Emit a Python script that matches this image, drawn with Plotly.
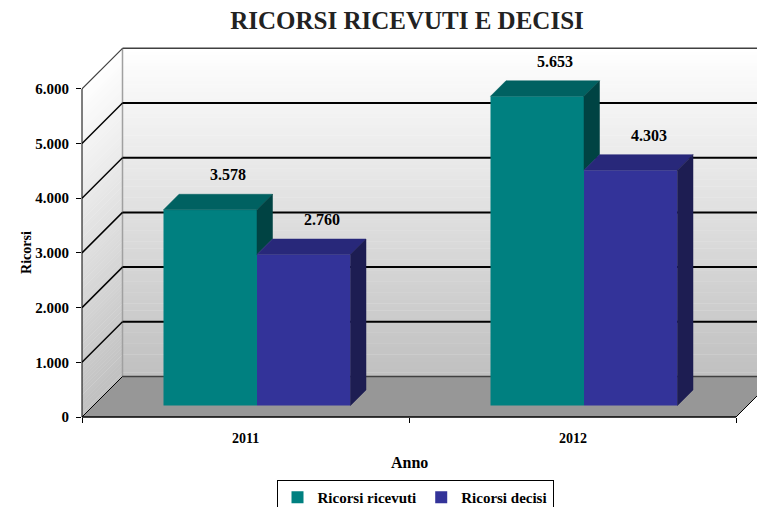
import plotly.graph_objects as go

# ---------------- data ----------------
categories = ["2011", "2012"]
ricorsi_ricevuti = [3578, 5653]
ricorsi_decisi = [2760, 4303]
series_names = ["Ricorsi ricevuti", "Ricorsi decisi"]
y_ticks = [0, 1000, 2000, 3000, 4000, 5000, 6000]
title_text = "RICORSI RICEVUTI E DECISI"
x_title = "Anno"
y_title = "Ricorsi"

# ---------------- style / geometry ----------------
FONT = "Liberation Serif, DejaVu Serif, serif"
PAGE_OFF = 8                     # default body margin of the html page
W, H = 765 - PAGE_OFF, 507 - PAGE_OFF
ML, MR, MT, MB = 82 - PAGE_OFF, 0, 40 - PAGE_OFF, 90
PX_PER_CAT = 327.0
PX_PER_VAL = 54.7 / 1000.0
DEPTH = 40.5
BAR_OFF = 11.5
BAR_DEPTH = 15.5
BAR_W = 93.5

front_col = ["#008080", "#333399"]
top_col = ["#006161", "#28287a"]
side_col = ["#004343", "#1d1d52"]

plot_w = W - ML - MR
plot_h = H - MT - MB
x_range = [-0.5, -0.5 + plot_w / PX_PER_CAT]
y_range = [0, plot_h / PX_PER_VAL]
plot_bottom_screen = 417


def dx(px):
    return px / PX_PER_CAT


def dv(px):
    return px / PX_PER_VAL


def fmt(v):
    return f"{v:,}".replace(",", ".")


series = [ricorsi_ricevuti, ricorsi_decisi]
n_cat = len(categories)
n_ser = len(series)
vmax = y_ticks[-1]
xL = -0.5
xR = n_cat - 0.5
DX, DV = dx(DEPTH), dv(DEPTH)

shapes = []

# back wall gradient
N = 90
def gray(t):
    c = int(round(192 + (255 - 192) * t))
    return f"rgb({c},{c},{c})"

for k in range(N):
    v0 = vmax * k / N
    v1 = vmax * (k + 1) / N
    col = gray((k + 0.5) / N)
    shapes.append(dict(type="rect", xref="x", yref="y", layer="below",
                       x0=xL + DX, x1=x_range[1] + 1, y0=v0 + DV, y1=v1 + DV + 8,
                       fillcolor=col, line=dict(width=0)))
# side wall gradient
for k in range(N):
    v0 = vmax * k / N
    v1 = vmax * (k + 1) / N + 8
    col = gray((k + 0.5) / N)
    path = (f"M {xL},{v0} L {xL + DX},{v0 + DV} L {xL + DX},{v1 + DV} "
            f"L {xL},{v1} Z")
    shapes.append(dict(type="path", xref="x", yref="y", layer="below",
                       path=path, fillcolor=col, line=dict(width=0)))
# floor
shapes.append(dict(type="path", xref="x", yref="y", layer="below",
                   path=f"M {xL},0 L {xR},0 L {xR + DX},{DV} L {xL + DX},{DV} Z",
                   fillcolor="#979797", line=dict(width=0)))
# back-left vertical edge
shapes.append(dict(type="line", xref="x", yref="y", layer="below",
                   x0=xL + DX, x1=xL + DX, y0=DV, y1=vmax + DV,
                   line=dict(color="#a0a0a0", width=1.5)))
# gridlines
for v in y_ticks[1:-1]:
    shapes.append(dict(type="line", xref="x", yref="y", layer="below",
                       x0=xL + DX, x1=x_range[1] + 1, y0=v + DV, y1=v + DV,
                       line=dict(color="black", width=2)))
    shapes.append(dict(type="line", xref="x", yref="y", layer="below",
                       x0=xL, x1=xL + DX, y0=v, y1=v + DV,
                       line=dict(color="black", width=1.5)))
# top edges
shapes.append(dict(type="line", xref="x", yref="y", layer="below",
                   x0=xL + DX, x1=x_range[1] + 1, y0=vmax + DV, y1=vmax + DV,
                   line=dict(color="#404040", width=1.5)))
shapes.append(dict(type="line", xref="x", yref="y", layer="below",
                   x0=xL, x1=xL + DX, y0=vmax, y1=vmax + DV,
                   line=dict(color="#404040", width=1.2)))
# floor edges
shapes.append(dict(type="line", xref="x", yref="y", layer="below",
                   x0=xL + DX, x1=x_range[1] + 1, y0=DV, y1=DV,
                   line=dict(color="#404040", width=1.5)))
shapes.append(dict(type="line", xref="x", yref="y", layer="below",
                   x0=xL, x1=xL + DX, y0=0, y1=DV,
                   line=dict(color="black", width=1)))
shapes.append(dict(type="line", xref="x", yref="y", layer="below",
                   x0=xR, x1=xR + DX, y0=0, y1=DV,
                   line=dict(color="black", width=1)))
# axis lines
shapes.append(dict(type="line", xref="paper", yref="y", layer="above",
                   x0=0, x1=0, y0=0, y1=vmax, line=dict(color="black", width=1)))
shapes.append(dict(type="line", xref="x", yref="paper", layer="above",
                   x0=xL, x1=xR, y0=0, y1=0, line=dict(color="black", width=1.5)))

fig = go.Figure()

base = dv(BAR_OFF)
bw = dx(BAR_W)
bdx, bdv = dx(BAR_DEPTH), dv(BAR_DEPTH)

lefts = []
for s in range(n_ser):
    lefts.append([i + dx(BAR_OFF) - n_ser * bw / 2 + s * bw for i in range(n_cat)])

# front faces
for s, vals in enumerate(series):
    fig.add_trace(go.Bar(
        x=[l + bw / 2 for l in lefts[s]], y=vals, base=base, width=bw,
        name=series_names[s], marker=dict(color=front_col[s], line=dict(width=0)),
        hoverinfo="skip"))

annotations = []
# top / side faces + labels
for s, vals in enumerate(series):
    for i, v in enumerate(vals):
        xl = lefts[s][i]
        xr = xl + bw
        top = base + v
        fig.add_trace(go.Scatter(
            x=[xl, xr, xr + bdx, xl + bdx, xl],
            y=[top, top, top + bdv, top + bdv, top],
            fill="toself", fillcolor=top_col[s], mode="lines",
            line=dict(color=top_col[s], width=0.5),
            showlegend=False, hoverinfo="skip"))
        if s + 1 < n_ser:
            bottom_v = min(series[s + 1][i], v)
        else:
            bottom_v = 0
        bot = base + bottom_v
        fig.add_trace(go.Scatter(
            x=[xr, xr, xr + bdx, xr + bdx, xr],
            y=[bot, top, top + bdv, bot + bdv, bot],
            fill="toself", fillcolor=side_col[s], mode="lines",
            line=dict(color=side_col[s], width=0.5),
            showlegend=False, hoverinfo="skip"))
        annotations.append(dict(
            x=xl + bw / 2 + dx(18), y=top, xref="x", yref="y", yshift=35,
            text=fmt(v), showarrow=False, yanchor="middle",
            font=dict(family=FONT, size=16, color="black", weight="bold")))

# category labels
for i, c in enumerate(categories):
    annotations.append(dict(
        x=i, y=-21 / plot_h, xref="x", yref="paper", text=c, showarrow=False,
        yanchor="middle", font=dict(family=FONT, size=14, color="black", weight="bold")))
annotations.append(dict(
    x=(n_cat - 1) / 2, y=-45 / plot_h, xref="x", yref="paper", text=x_title,
    showarrow=False, yanchor="middle",
    font=dict(family=FONT, size=16, color="black", weight="bold")))
annotations.append(dict(
    x=(27 - 82) / plot_w, y=vmax / 2, xref="paper", yref="y", text=y_title,
    showarrow=False, textangle=-90, xanchor="center", yanchor="middle",
    font=dict(family=FONT, size=14, color="black", weight="bold")))

fig.update_layout(
    width=W, height=H,
    margin=dict(l=ML, r=MR, t=MT, b=MB, pad=0, autoexpand=False),
    paper_bgcolor="white", plot_bgcolor="white",
    barmode="overlay",
    title=dict(text=title_text, x=(407 - PAGE_OFF) / W, xanchor="center",
               xref="container", y=1 - (20 - PAGE_OFF) / H, yanchor="middle",
               yref="container",
               font=dict(family=FONT, size=25, color="#222222", weight="bold")),
    xaxis=dict(range=x_range, showgrid=False, zeroline=False, showline=False,
               tickmode="array", tickvals=[xL + k for k in range(n_cat + 1)],
               ticktext=["" for _ in range(n_cat + 1)],
               ticks="outside", ticklen=5, tickcolor="black", tickwidth=1,
               fixedrange=True, automargin=False),
    yaxis=dict(range=y_range, showgrid=False, zeroline=False, showline=False,
               tickmode="array", tickvals=y_ticks, ticktext=[fmt(v) for v in y_ticks],
               ticks="outside", ticklen=5, tickcolor="black", tickwidth=1,
               ticklabelstandoff=4,
               tickfont=dict(family=FONT, size=15, color="black", weight="bold"),
               fixedrange=True, automargin=False),
    legend=dict(orientation="h", x=(415 - 82) / plot_w, xanchor="center",
                y=(plot_bottom_screen - 480) / plot_h, yanchor="top",
                bordercolor="black", borderwidth=1, bgcolor="white",
                font=dict(family=FONT, size=15, color="black", weight="bold"),
                itemwidth=30, tracegroupgap=0),
    shapes=shapes,
    annotations=annotations,
    showlegend=True,
)

fig.write_html("out.html")
